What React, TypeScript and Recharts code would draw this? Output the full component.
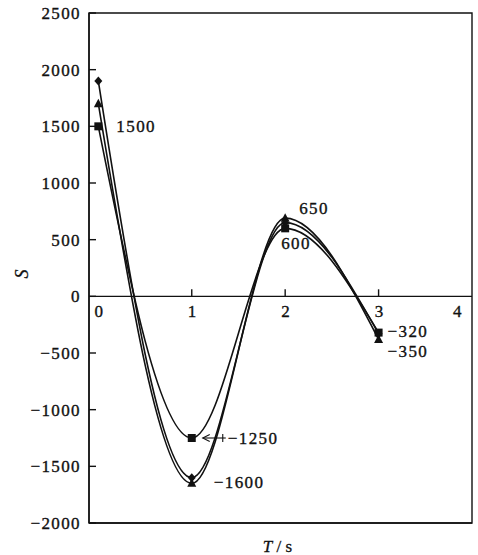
import React from 'react';
import { ComposedChart, Line, XAxis, YAxis, ReferenceLine, ReferenceArea, ReferenceDot } from 'recharts';

const times = [0, 1, 2, 3];
const seriesDiamond = [1900, -1600, 650, -330];
const seriesTriangle = [1700, -1650, 690, -380];
const seriesSquare = [1500, -1250, 600, -320];
const yTicks = [-2000, -1500, -1000, -500, 0, 500, 1000, 1500, 2000, 2500];
const xTickLabels = [0, 1, 2, 3, 4];
const xTickMarks = [1, 2, 3];
const annotationTimes = [0, 1, 1, 2, 2, 3, 3];
const annotationValues = [1500, -1250, -1600, 650, 600, -320, -350];

const data = times.map((t, i) => ({ t, d: seriesDiamond[i], tr: seriesTriangle[i], s: seriesSquare[i] }));

const FONT = '"Liberation Serif", "Times New Roman", serif';
const INK = '#111';
const FS = 17;
const LS = 1.4;
const fmt = (v: number) => (v < 0 ? '\u2212' + Math.abs(v) : String(v));

const textStyle = { fontFamily: FONT, fontSize: FS, fill: INK, stroke: INK, strokeWidth: 0.35, letterSpacing: LS };

const DiamondDot = (p: any) => {
  const { cx, cy, index } = p;
  if (cx == null || cy == null) return <g key={`dd-${index}`} />;
  return <polygon key={`dd-${index}`} points={`${cx},${cy - 4.5} ${cx + 4},${cy} ${cx},${cy + 4.5} ${cx - 4},${cy}`} fill={INK} />;
};
const TriangleDot = (p: any) => {
  const { cx, cy, index } = p;
  if (cx == null || cy == null) return <g key={`td-${index}`} />;
  return <polygon key={`td-${index}`} points={`${cx},${cy - 5} ${cx + 4.5},${cy + 3.5} ${cx - 4.5},${cy + 3.5}`} fill={INK} />;
};
const SquareDot = (p: any) => {
  const { cx, cy, index } = p;
  if (cx == null || cy == null) return <g key={`sd-${index}`} />;
  return <rect key={`sd-${index}`} x={cx - 4} y={cy - 4} width={8} height={8} fill={INK} />;
};

// label offsets (style only), in px relative to the anchor point
const labelOffsets: Record<number, [number, number]> = {
  0: [18, 0],
  1: [36, 0],
  2: [22, 5],
  3: [14, -14],
  4: [-4, 15],
  5: [9, -1],
  6: [9, 15],
};

const centerOf = (vb: any) => ({ cx: vb.x + (vb.width || 0) / 2, cy: vb.y + (vb.height || 0) / 2 });

const makeAnnotation = (i: number) => (props: any) => {
  const { cx, cy } = centerOf(props.viewBox);
  const [dx, dy] = labelOffsets[i];
  const text = (
    <text x={cx + dx} y={cy + dy + 5.5} textAnchor="start" {...textStyle}>
      {fmt(annotationValues[i])}
    </text>
  );
  if (i === 1) {
    return (
      <g>
        <line x1={cx + 34} y1={cy} x2={cx + 11} y2={cy} stroke={INK} strokeWidth={1.1} />
        <line x1={cx + 31} y1={cy - 4} x2={cx + 31} y2={cy + 4} stroke={INK} strokeWidth={1.1} />
        <polyline points={`${cx + 18},${cy - 3.5} ${cx + 11},${cy} ${cx + 18},${cy + 3.5}`} fill="none" stroke={INK} strokeWidth={1.1} />
        {text}
      </g>
    );
  }
  return text;
};

const makeXTickLabel = (v: number) => (props: any) => {
  const { cx, cy } = centerOf(props.viewBox);
  const shift = v === 4 ? -14 : 1;
  return (
    <text x={cx + shift} y={cy + 21} textAnchor="middle" {...textStyle}>
      {fmt(v)}
    </text>
  );
};

const YLabel = (props: any) => {
  const vb = props.viewBox;
  const x = vb.x + 22;
  const y = vb.y + vb.height / 2 + 6;
  return (
    <text x={x} y={y} transform={`rotate(-90, ${x}, ${y})`} textAnchor="middle" dominantBaseline="central" fontFamily={FONT} fontStyle="italic" fontSize={18} fill={INK} stroke={INK} strokeWidth={0.3}>
      S
    </text>
  );
};

const XLabel = (props: any) => {
  const vb = props.viewBox;
  const x = vb.x + vb.width / 2 - 3;
  const y = vb.y + 29;
  return (
    <text x={x} y={y} textAnchor="middle" fontFamily={FONT} fontSize={17} fill={INK} stroke={INK} strokeWidth={0.3}>
      <tspan fontStyle="italic">T</tspan>
      <tspan> / s</tspan>
    </text>
  );
};

export default function App() {
  return (
    <div style={{ position: 'absolute', left: 0, top: 0, width: 478, height: 555, background: '#fff' }}>
      <ComposedChart width={478} height={555} data={data} margin={{ top: 13, right: 6, bottom: 0, left: 0 }} style={{ fontFamily: FONT }}>
        <XAxis
          dataKey="t"
          type="number"
          domain={[-0.1, 4]}
          allowDataOverflow
          tick={false}
          tickLine={false}
          axisLine={{ stroke: INK, strokeWidth: 1.4 }}
          height={32}
          label={<XLabel />}
        />
        <YAxis
          type="number"
          domain={[-2000, 2500]}
          ticks={yTicks}
          interval={0}
          width={89}
          tickSize={-7}
          tickMargin={15}
          tickFormatter={fmt}
          tick={textStyle}
          tickLine={{ stroke: INK, strokeWidth: 1.4 }}
          axisLine={{ stroke: INK, strokeWidth: 1.4 }}
          label={<YLabel />}
        />
        <ReferenceArea x1={-0.1} x2={4} y1={-2000} y2={2500} fill="none" fillOpacity={0} stroke={INK} strokeWidth={1.4} strokeOpacity={1} />
        <ReferenceLine y={0} stroke={INK} strokeWidth={1.4} />
        {xTickMarks.map((t) => (
          <ReferenceLine key={`xm-${t}`} segment={[{ x: t, y: 0 }, { x: t, y: 62 }]} stroke={INK} strokeWidth={1.4} />
        ))}
        {xTickLabels.map((t) => (
          <ReferenceDot key={`xl-${t}`} x={t} y={0} r={1} fill="none" stroke="none" label={makeXTickLabel(t)} />
        ))}
        <Line type="monotone" dataKey="s" stroke={INK} strokeWidth={1.6} dot={SquareDot} activeDot={false} isAnimationActive={false} />
        <Line type="monotone" dataKey="tr" stroke={INK} strokeWidth={1.6} dot={TriangleDot} activeDot={false} isAnimationActive={false} />
        <Line type="monotone" dataKey="d" stroke={INK} strokeWidth={1.6} dot={DiamondDot} activeDot={false} isAnimationActive={false} />
        {annotationValues.map((v, i) => (
          <ReferenceDot key={`an-${i}`} x={annotationTimes[i]} y={v} r={1} fill="none" stroke="none" label={makeAnnotation(i)} />
        ))}
      </ComposedChart>
    </div>
  );
}
